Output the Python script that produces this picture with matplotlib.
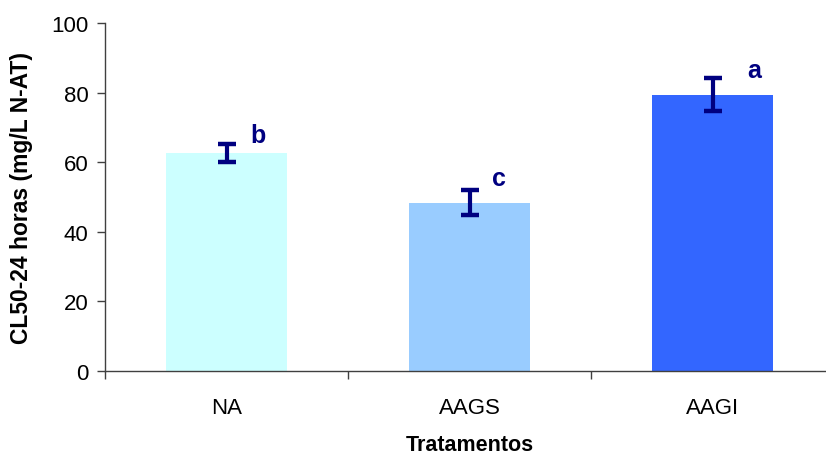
import matplotlib
matplotlib.use("Agg")
import matplotlib.pyplot as plt
import numpy as np

# data
tratamentos = ['NA', 'AAGS', 'AAGI']
cl50 = [62.7, 48.3, 79.4]
erro = [2.5, 3.6, 4.7]
letras = ['b', 'c', 'a']
letra_y = [65.8, 53.5, 84.5]
cores = ['#CCFFFF', '#99CCFF', '#3366FF']

# layout only: horizontal offset of each letter from its bar centre
letra_dx = [0.13, 0.12, 0.17]

plt.rcParams['font.family'] = ['Liberation Sans', 'DejaVu Sans']

fig = plt.figure(figsize=(8.26, 4.56), dpi=100)
ax = fig.add_axes([105 / 826, 1 - 372 / 456, 729 / 826, 348 / 456])

x = np.arange(len(tratamentos))
ax.bar(x, cl50, width=0.5, color=cores, zorder=2)
ax.errorbar(x, cl50, yerr=erro, fmt='none', ecolor='#000080',
            elinewidth=3, capsize=6.5, capthick=3.2, zorder=3)

for xi, dx, ly, lt in zip(x, letra_dx, letra_y, letras):
    ax.text(xi + dx, ly, lt, ha='center', va='baseline', fontsize=18,
            fontweight='bold', color='#000080')

ax.set_xlim(-0.5, len(tratamentos) - 0.5)
ax.set_ylim(0, 100)
ax.set_yticks(range(0, 101, 20))
ax.tick_params(axis='y', labelsize=16, length=6, width=1, color='#404040', pad=6)

# tick marks between categories, labels at centres
ax.set_xticks(np.arange(-0.5, len(tratamentos), 1.0))
ax.set_xticklabels([])
ax.tick_params(axis='x', which='major', length=6, width=1, color='#404040')
ax.set_xticks(x, minor=True)
ax.set_xticklabels(tratamentos, minor=True, fontsize=16)
ax.tick_params(axis='x', which='minor', length=0, pad=19)

for s in ['top', 'right']:
    ax.spines[s].set_visible(False)
for s in ['left', 'bottom']:
    ax.spines[s].set_color('#404040')
    ax.spines[s].set_linewidth(1)

ax.set_ylabel('CL50-24 horas (mg/L N-AT)', fontsize=16.5, fontweight='bold')
ax.yaxis.set_label_coords(-72 / 729, 0.5)
ax.set_xlabel('Tratamentos', fontsize=15.5, fontweight='bold')
ax.xaxis.set_label_coords(0.5, -63 / 348)

fig.savefig('out.png', dpi=100, facecolor='white')
